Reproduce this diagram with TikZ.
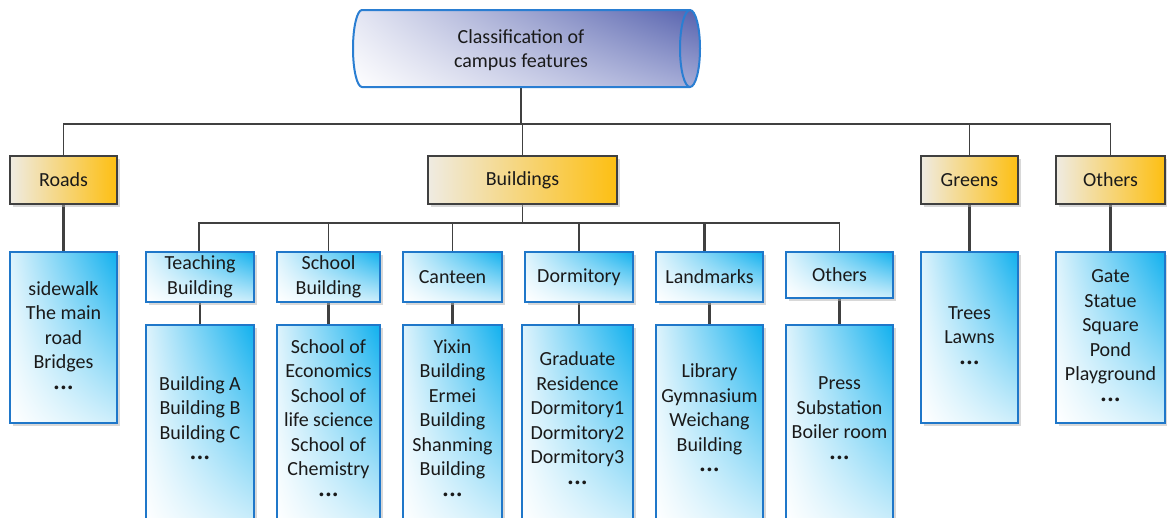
\documentclass[tikz,border=0pt]{standalone}
\usepackage{fontspec}
\setmainfont{Carlito}
\usetikzlibrary{shadows,backgrounds,shadings}
\definecolor{grayline}{HTML}{404040}
\definecolor{orgL}{HTML}{EFEBE2}
\definecolor{orgR}{HTML}{FDBF12}
\definecolor{blueline}{HTML}{1F77C9}
\definecolor{bUL}{HTML}{DDF3FC}
\definecolor{bUR}{HTML}{10B0EE}
\definecolor{bLR}{HTML}{CDEEFB}
\definecolor{cylline}{HTML}{2A7ED2}
\definecolor{cUL}{HTML}{E4E6F3}
\definecolor{cUR}{HTML}{5561AD}
\definecolor{cLR}{HTML}{A3AAD6}
\definecolor{txtc}{HTML}{1A1A1A}
\newcommand{\mydots}{{\bfseries ·\hspace{1.5pt}·\hspace{1.5pt}·}}
\begin{document}
\begin{tikzpicture}[x=1pt,y=1pt,
  txt/.style={align=center, font=\fontsize{20}{24.5}\selectfont, text=txtc, inner sep=0pt},
  shad/.style={drop shadow={shadow xshift=2.5pt, shadow yshift=-2.5pt, fill=black!30, opacity=0.5}},
  orangebox/.style={draw=grayline, line width=2.2pt, left color=orgL, right color=orgR,
     minimum height=48pt, inner sep=0pt, shad, txt},
  bluebox/.style={draw=blueline, line width=2pt, upper left=bUL, upper right=bUR,
     lower left=white, lower right=bLR, inner sep=0pt, shad, txt},
  conn/.style={draw=grayline, line width=1.6pt},
  connb/.style={draw=grayline, line width=2.6pt}
]
\useasboundingbox (0,0) rectangle (1167,-517);

% root cylinder
\shade[upper left=cUL, upper right=cUR, lower left=white, lower right=cLR]
  (690,-10) -- (362,-10) arc[start angle=90, end angle=270, x radius=9, y radius=38.5]
  -- (690,-87) arc[start angle=-90, end angle=90, x radius=10, y radius=38.5] -- cycle;
\draw[cylline, line width=2pt]
  (690,-10) -- (362,-10) arc[start angle=90, end angle=270, x radius=9, y radius=38.5]
  -- (690,-87) arc[start angle=-90, end angle=90, x radius=10, y radius=38.5] -- cycle;
\draw[cylline, line width=2pt] (690,-87) arc[start angle=270, end angle=90, x radius=10, y radius=38.5];
\node[txt, minimum width=338pt, minimum height=77pt] (cyl) at (521,-48.5) {};
\node[txt] (cylT) at ([yshift=-1.5pt]cyl.center) {Classification of\\campus features};

% level 1
\node[orangebox, minimum width=107pt] (roads) at (63.5,-180) {Roads};
\node[orangebox, minimum width=189pt] (bld) at (522.5,-180) {Buildings};
\node[orangebox, minimum width=97pt] (grn) at (969.5,-180) {Greens};
\node[orangebox, minimum width=109pt] (oth) at (1110.5,-180) {Others};

% level 1 leaves
\node[bluebox, minimum width=107pt, minimum height=171pt] (roadsC) at (63.5,-337.5) {};
\node[txt] (roadsT) at (roadsC.center) {sidewalk\\The main\\road\\Bridges\\\mydots};
\node[bluebox, minimum width=97pt, minimum height=171pt] (grnC) at (969.5,-337.5) {};
\node[txt] (grnT) at (grnC.center) {Trees\\Lawns\\\mydots};
\node[bluebox, minimum width=109pt, minimum height=171pt] (othC) at (1110.5,-337.5) {};
\node[txt] (othT) at (othC.center) {Gate\\Statue\\Square\\Pond\\Playground\\\mydots};

% buildings level 2
\node[bluebox, minimum width=108pt, minimum height=50pt] (tb) at (200,-277) {Teaching\\Building};
\node[bluebox, minimum width=103pt, minimum height=50pt] (sb) at (328.5,-277) {School\\Building};
\node[bluebox, minimum width=99pt, minimum height=50pt] (ct) at (452.5,-277) {Canteen};
\node[bluebox, minimum width=108pt, minimum height=50pt] (dm) at (579,-277) {Dormitory};
\node[bluebox, minimum width=107pt, minimum height=50pt] (lm) at (709.5,-277) {Landmarks};
\node[bluebox, minimum width=107pt, minimum height=46pt] (ob) at (839.5,-275) {Others};

% buildings level 3
\node[bluebox, minimum width=108pt, minimum height=200pt] (tbC) at (200,-425) {};
\node[txt] at ([yshift=5pt]tbC.center) {Building A\\Building B\\Building C\\\mydots};
\node[bluebox, minimum width=103pt, minimum height=200pt] (sbC) at (328.5,-425) {};
\node[txt] at ([yshift=5pt]sbC.center) {School of\\Economics\\School of\\life science\\School of\\Chemistry\\\mydots};
\node[bluebox, minimum width=99pt, minimum height=200pt] (ctC) at (452.5,-425) {};
\node[txt] at ([yshift=5pt]ctC.center) {Yixin\\Building\\Ermei\\Building\\Shanming\\Building\\\mydots};
\node[bluebox, minimum width=111pt, minimum height=200pt] (dmC) at (577.5,-425) {};
\node[txt] at ([yshift=5pt]dmC.center) {Graduate\\Residence\\Dormitory1\\Dormitory2\\Dormitory3\\\mydots};
\node[bluebox, minimum width=107pt, minimum height=200pt] (lmC) at (709.5,-425) {};
\node[txt] at ([yshift=5pt]lmC.center) {Library\\Gymnasium\\Weichang\\Building\\\mydots};
\node[bluebox, minimum width=107pt, minimum height=200pt] (obC) at (839.5,-425) {};
\node[txt] at ([yshift=5pt]obC.center) {Press\\Substation\\Boiler room\\\mydots};

\coordinate (hub) at (521,-124);
\coordinate (hub2) at (522,-223);

\begin{scope}[on background layer]
\draw[conn] (cyl.south) -- (hub);
\draw[conn] (roads.north) |- (hub) -| (oth.north);
\draw[conn] (bld.north) -- (bld.north |- hub);
\draw[conn] (grn.north) -- (grn.north |- hub);
\draw[connb] (roads.south) -- (roadsC.north);
\draw[connb] (grn.south) -- (grnC.north);
\draw[connb] (oth.south) -- (othC.north);
\draw[conn] (bld.south) -- (bld.south |- hub2);
\draw[conn] ([xshift=-1pt]tb.north) |- (hub2) -| (ob.north);
\draw[conn] (sb.north) -- (sb.north |- hub2);
\draw[conn] (ct.north) -- (ct.north |- hub2);
\draw[conn] (dm.north) -- (dm.north |- hub2);
\draw[connb] ([xshift=-5pt]lm.north) -- ([xshift=-5pt]lm.north |- hub2);
\draw[connb] (tb.south) -- (tbC.north);
\draw[connb] (sb.south) -- (sbC.north);
\draw[connb] (ct.south) -- (ctC.north);
\draw[connb] (dm.south) -- (dm.south |- dmC.north);
\draw[connb] (lm.south) -- (lmC.north);
\draw[connb] (ob.south) -- (obC.north);
\end{scope}
\end{tikzpicture}
\end{document}
